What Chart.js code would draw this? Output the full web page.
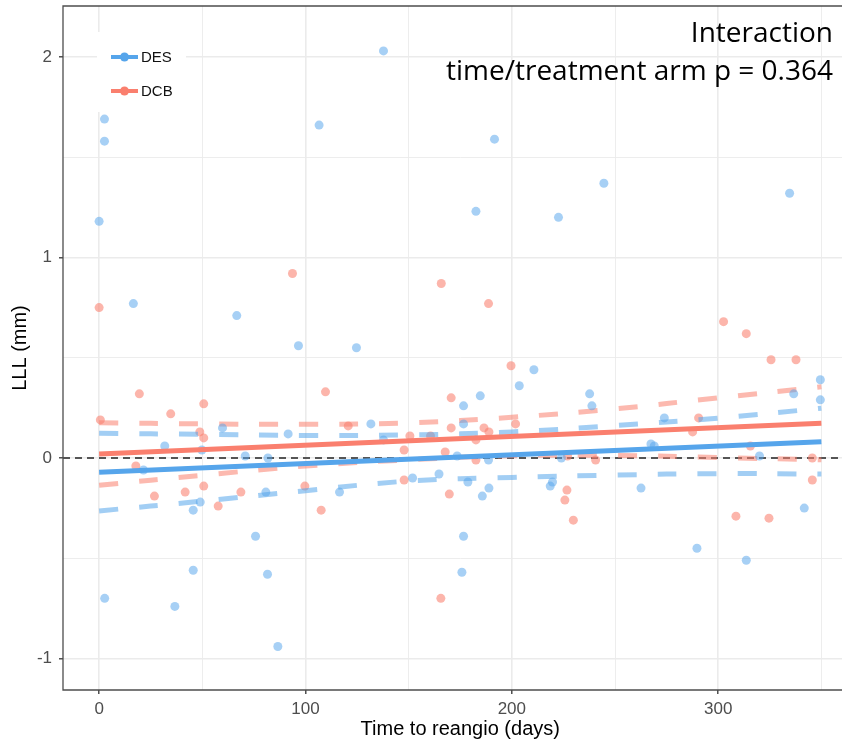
<!DOCTYPE html>
<html>
<head>
<meta charset="utf-8">
<title>LLL vs time to reangio</title>
<script src="https://cdn.jsdelivr.net/npm/chart.js@4"></script>
<style>
    html, body { margin: 0; padding: 0; background: #fff; overflow: hidden; }
    #wrap { position: relative; width: 842px; height: 741px; overflow: hidden; }
    #note {
        position: absolute; right: 9px; top: 12px; text-align: right;
        font-family: "Open Sans", sans-serif; font-size: 28px; line-height: 38px; color: #000;
    }
</style>
</head>
<body>
<div id="wrap">
    <!-- the panel runs a little past the right edge, as in the original figure -->
    <canvas id="lllChart" width="862" height="741"></canvas>
    <div id="note">Interaction<br>time/treatment arm p = 0.364</div>
</div>
<script>
// Data
const desDays = [0, 2.6, 2.6, 106.6, 137.8, 191.6, 182.6, 222.6, 244.6, 334.6,
    16.6, 66.7, 96.6, 59.8, 91.6, 31.8, 49.8, 70.8, 81.8, 21.5,
    49, 45.6, 80.8, 116.5, 75.8, 45.6, 81.6, 2.7, 36.7, 86.6,
    124.7, 210.7, 203.6, 184.7, 176.6, 237.7, 238.8, 131.7, 137.8, 176.6,
    173.5, 188.7, 224, 151.9, 164.7, 178.7, 188.9, 185.7, 176.6, 175.8,
    218.6, 219.7, 349.5, 349.5, 336.6, 273.9, 267.4, 269, 320, 262.6,
    341.7, 289.7, 313.6];
const desLLL = [1.18, 1.69, 1.58, 1.66, 2.03, 1.59, 1.23, 1.20, 1.37, 1.32,
    0.77, 0.71, 0.56, 0.15, 0.12, 0.06, 0.04, 0.01, 0.0, -0.06,
    -0.22, -0.26, -0.17, -0.17, -0.39, -0.56, -0.58, -0.70, -0.74, -0.94,
    0.55, 0.44, 0.36, 0.31, 0.26, 0.32, 0.26, 0.17, 0.09, 0.17,
    0.01, -0.01, 0.0, -0.10, -0.08, -0.12, -0.15, -0.19, -0.39, -0.57,
    -0.14, -0.12, 0.39, 0.29, 0.32, 0.20, 0.07, 0.06, 0.01, -0.15,
    -0.25, -0.45, -0.51];

const dcbDays = [0, 93.7, 19.5, 50.7, 34.7, 109.7, 0.6, 48.8, 50.7, 17.8,
    26.8, 41.7, 50.7, 57.7, 68.7, 99.7, 107.6, 165.8, 188.7, 199.6,
    170.6, 120.7, 150.6, 147.8, 160.6, 170.6, 186.5, 188.9, 182.6, 167.7,
    201.8, 182.6, 227, 240.6, 147.8, 169.7, 165.6, 226.7, 225.7, 229.8,
    302.6, 313.6, 325.6, 337.7, 290.5, 287.6, 315.6, 345.6, 345.6, 308.6,
    324.6];
const dcbLLL = [0.75, 0.92, 0.32, 0.27, 0.22, 0.33, 0.19, 0.13, 0.10, -0.04,
    -0.19, -0.17, -0.14, -0.24, -0.17, -0.14, -0.26, 0.87, 0.77, 0.46,
    0.30, 0.16, 0.11, 0.04, 0.11, 0.15, 0.15, 0.13, 0.09, 0.03,
    0.17, -0.01, 0.01, -0.01, -0.11, -0.18, -0.70, -0.16, -0.21, -0.31,
    0.68, 0.62, 0.49, 0.49, 0.20, 0.13, 0.06, 0.0, -0.11, -0.29,
    -0.30];

// Linear fits and their confidence limits
const fitDays = [0, 350];
const desFit = [-0.071, 0.081];
const dcbFit = [0.02, 0.173];
const bandDays = [0, 50, 100, 150, 200, 250, 300, 350];
const desUpper = [0.123, 0.118, 0.112, 0.115, 0.13, 0.162, 0.199, 0.248];
const desLower = [-0.264, -0.215, -0.163, -0.115, -0.097, -0.085, -0.078, -0.08];
const dcbUpper = [0.176, 0.17, 0.168, 0.175, 0.203, 0.245, 0.30, 0.355];
const dcbLower = [-0.136, -0.086, -0.04, -0.009, 0.011, 0.013, 0.002, -0.009];

// Axis ticks
const xTickValues = [0, 50, 100, 150, 200, 250, 300, 350];
const xTickLabels = ["0", "", "100", "", "200", "", "300", ""];
const yTickValues = [-1, -0.5, 0, 0.5, 1, 1.5, 2];
const yTickLabels = ["-1", "", "0", "", "1", "", "2"];

const desColor = "#56a5eb";
const dcbColor = "#fa7f6e";

function toPoints(xs, ys) {
    return xs.map((x, i) => ({ x: x, y: ys[i] }));
}

function bandSet(xs, ys, color) {
    return {
        type: "line",
        data: toPoints(xs, ys),
        borderColor: color,
        borderWidth: 5,
        borderDash: [19, 21],
        tension: 0.4,
        pointRadius: 0,
        fill: false,
    };
}

// no extra label padding around the panel
function noPad(scale) {
    scale.paddingTop = 0;
    scale.paddingBottom = 0;
    scale.paddingLeft = 0;
    scale.paddingRight = 0;
}

// zero reference line, under the data
const zeroLine = {
    id: "zeroLine",
    beforeDatasetsDraw(chart) {
        const { ctx, chartArea, scales } = chart;
        const y = scales.y.getPixelForValue(0);
        ctx.save();
        ctx.strokeStyle = "#555";
        ctx.lineWidth = 2;
        ctx.setLineDash([7, 5]);
        ctx.beginPath();
        ctx.moveTo(chartArea.left, y);
        ctx.lineTo(chartArea.right, y);
        ctx.stroke();
        ctx.restore();
    },
};

// panel border + legend inside the panel
const panelExtras = {
    id: "panelExtras",
    afterDraw(chart) {
        const { ctx, chartArea } = chart;
        ctx.save();
        ctx.strokeStyle = "#4d4d4d";
        ctx.lineWidth = 1.3;
        ctx.beginPath();
        ctx.moveTo(chartArea.right, chartArea.top);
        ctx.lineTo(chartArea.left, chartArea.top);
        ctx.lineTo(chartArea.left, chartArea.bottom);
        ctx.lineTo(chartArea.right, chartArea.bottom);
        ctx.stroke();

        ctx.fillStyle = "#fff";
        ctx.fillRect(97, 32, 89, 80);
        const items = [
            { label: chart.data.datasets[4].label, color: desColor, y: 57 },
            { label: chart.data.datasets[5].label, color: dcbColor, y: 91 },
        ];
        items.forEach((it) => {
            ctx.strokeStyle = it.color;
            ctx.lineWidth = 4;
            ctx.beginPath();
            ctx.moveTo(111, it.y);
            ctx.lineTo(138, it.y);
            ctx.stroke();
            ctx.fillStyle = it.color;
            ctx.beginPath();
            ctx.arc(124.5, it.y, 4.5, 0, Math.PI * 2);
            ctx.fill();
            ctx.fillStyle = "#111";
            ctx.font = '15px "Liberation Sans", Arial, sans-serif';
            ctx.textBaseline = "middle";
            ctx.fillText(it.label, 141, it.y + 1);
        });
        ctx.restore();
    },
};

const ctx = document.getElementById("lllChart").getContext("2d");
new Chart(ctx, {
    type: "scatter",
    data: {
        datasets: [
            {
                type: "line",
                label: "DES fit",
                data: toPoints(fitDays, desFit),
                borderColor: desColor,
                borderWidth: 5,
                pointRadius: 0,
            },
            {
                type: "line",
                label: "DCB fit",
                data: toPoints(fitDays, dcbFit),
                borderColor: dcbColor,
                borderWidth: 5,
                pointRadius: 0,
            },
            bandSet(bandDays, desUpper, "rgba(86, 165, 235, 0.55)"),
            bandSet(bandDays, desLower, "rgba(86, 165, 235, 0.55)"),
            {
                label: "DES",
                data: toPoints(desDays, desLLL),
                backgroundColor: "rgba(86, 165, 235, 0.52)",
                borderWidth: 0,
                pointRadius: 4.5,
            },
            {
                label: "DCB",
                data: toPoints(dcbDays, dcbLLL),
                backgroundColor: "rgba(250, 127, 110, 0.58)",
                borderWidth: 0,
                pointRadius: 4.5,
            },
            bandSet(bandDays, dcbUpper, "rgba(250, 127, 110, 0.55)"),
            bandSet(bandDays, dcbLower, "rgba(250, 127, 110, 0.55)"),
        ],
    },
    options: {
        responsive: false,
        animation: false,
        layout: { padding: { top: 6, right: 0, left: 0, bottom: 0 } },
        plugins: {
            legend: { display: false },
            tooltip: { enabled: false },
        },
        scales: {
            x: {
                type: "linear",
                min: -17.5,
                max: 367.5,
                afterBuildTicks: (scale) => {
                    scale.ticks = xTickValues.map((v) => ({ value: v }));
                },
                afterFit: (scale) => {
                    scale.height = 51;
                    noPad(scale);
                },
                ticks: {
                    autoSkip: false,
                    maxRotation: 0,
                    padding: 5,
                    color: "#4d4d4d",
                    font: { family: '"Liberation Sans", Arial, sans-serif', size: 17 },
                    callback: (value, index) => xTickLabels[index],
                },
                grid: {
                    color: "#ebebeb",
                    lineWidth: (c) => (c.tick && c.tick.value % 100 === 0 ? 1.6 : 0.9),
                    tickLength: 4,
                    tickColor: (c) => (c.tick && c.tick.value % 100 === 0 ? "#333" : "rgba(0,0,0,0)"),
                    tickWidth: 1.3,
                },
                border: { display: false },
                title: {
                    display: true,
                    text: "Time to reangio (days)",
                    color: "#000",
                    font: { family: '"Liberation Sans", Arial, sans-serif', size: 20 },
                    padding: { top: 0, bottom: 0 },
                },
            },
            y: {
                type: "linear",
                min: -1.157,
                max: 2.254,
                afterBuildTicks: (scale) => {
                    scale.ticks = yTickValues.map((v) => ({ value: v }));
                },
                afterFit: (scale) => {
                    scale.width = 63;
                    noPad(scale);
                },
                ticks: {
                    autoSkip: false,
                    padding: 7,
                    color: "#4d4d4d",
                    font: { family: '"Liberation Sans", Arial, sans-serif', size: 17 },
                    callback: (value, index) => yTickLabels[index],
                },
                grid: {
                    color: "#ebebeb",
                    lineWidth: (c) => (c.tick && Number.isInteger(c.tick.value) ? 1.6 : 0.9),
                    tickLength: 4,
                    tickColor: (c) => (c.tick && Number.isInteger(c.tick.value) ? "#333" : "rgba(0,0,0,0)"),
                    tickWidth: 1.3,
                },
                border: { display: false },
                title: {
                    display: true,
                    text: "LLL (mm)",
                    color: "#000",
                    font: { family: '"Liberation Sans", Arial, sans-serif', size: 20 },
                    padding: { top: 8, bottom: 0 },
                },
            },
        },
    },
    plugins: [zeroLine, panelExtras],
});
</script>
</body>
</html>
